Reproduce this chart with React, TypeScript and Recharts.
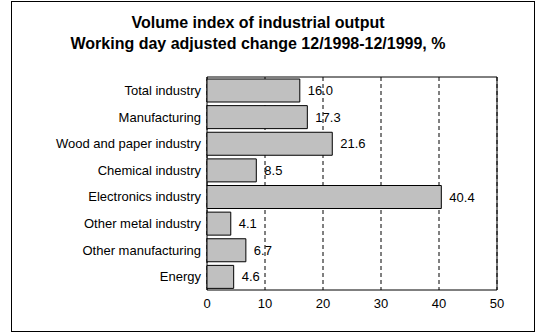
import { BarChart, Bar, XAxis, YAxis, CartesianGrid, ReferenceArea, LabelList } from "recharts"

const categories = [
    "Total industry",
    "Manufacturing",
    "Wood and paper industry",
    "Chemical industry",
    "Electronics industry",
    "Other metal industry",
    "Other manufacturing",
    "Energy",
]
const changes = [16.0, 17.3, 21.6, 8.5, 40.4, 4.1, 6.7, 4.6]
const xTicks = [0, 10, 20, 30, 40, 50]

const data = categories.map((name, i) => ({ name, value: changes[i] }))

const FONT = "'Liberation Sans', Arial, sans-serif"

export default function App() {
    return (
        <div style={{ position: 'absolute', left: 0, top: 0, width: 554, height: 336, background: '#fff', fontFamily: FONT }}>
            <div style={{
                position: 'absolute', left: 11, top: 1, width: 524, height: 331,
                border: '1px solid #000', boxSizing: 'border-box'
            }} />
            <div style={{
                position: 'absolute', left: 0, top: 12, width: 516, textAlign: 'center',
                fontWeight: 'bold', fontSize: 16, lineHeight: '21px', color: '#000'
            }}>
                Volume index of industrial output<br />
                Working day adjusted change 12/1998-12/1999, %
            </div>
            <div style={{ position: 'absolute', left: 0, top: 0 }}>
                <BarChart
                    width={554}
                    height={336}
                    data={data}
                    layout="vertical"
                    margin={{ top: 77, right: 57, left: 11, bottom: 16 }}
                    barSize={23}
                >
                    <CartesianGrid horizontal={false} stroke="#000" strokeDasharray="4 3" />
                    <XAxis
                        type="number"
                        domain={[0, 50]}
                        ticks={xTicks}
                        axisLine={false}
                        tickLine={false}
                        tickSize={0}
                        tickMargin={9}
                        height={30}
                        tick={{ fill: '#000', fontSize: 13, fontFamily: FONT }}
                    />
                    <YAxis
                        type="category"
                        dataKey="name"
                        width={196}
                        axisLine={false}
                        tickLine={false}
                        tickSize={0}
                        tickMargin={6}
                        tick={{ fill: '#000', fontSize: 13, fontFamily: FONT }}
                    />
                    <Bar dataKey="value" fill="#c0c0c0" stroke="#000" strokeWidth={1} isAnimationActive={false}>
                        <LabelList
                            dataKey="value"
                            position="right"
                            offset={8}
                            formatter={(v: any) => Number(v).toFixed(1)}
                            style={{ fill: '#000', fontSize: 13, fontFamily: FONT }}
                        />
                    </Bar>
                    <ReferenceArea x1={0} x2={50} fill="none" fillOpacity={0} stroke="#000" strokeWidth={1} ifOverflow="visible" />
                </BarChart>
            </div>
        </div>
    )
}
